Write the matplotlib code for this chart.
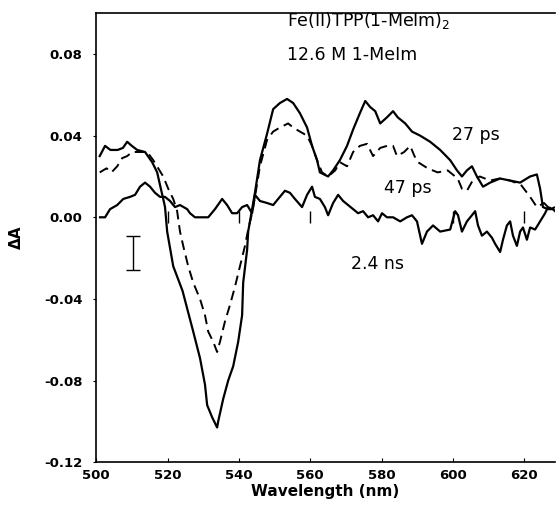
import numpy as np
import matplotlib.pyplot as plt

# Transient difference spectra, Fe(II)TPP(1-MeIm)2 in 12.6 M 1-MeIm
wl_27 = [501.0, 502.5, 504.0, 506.0, 507.5, 508.7, 510.0, 511.5, 513.7, 515.7,
         517.1, 518.0, 518.8, 519.3, 519.9, 521.6, 524.2, 527.2, 529.1, 530.5,
         531.1, 532.5, 533.9, 534.2, 535.6, 537.0, 538.4, 539.8, 540.9, 541.2,
         542.3, 542.6, 543.7, 544.5, 545.9, 547.9, 549.6, 551.5, 553.5, 555.2,
         557.1, 559.1, 560.5, 561.9, 562.7, 565.0, 566.4, 568.3, 570.3, 572.0,
         573.9, 575.4, 576.8, 578.2, 579.6, 581.5, 583.2, 584.5, 586.6, 588.5,
         590.8, 593.6, 596.4, 599.2, 601.1, 602.5, 603.9, 605.3, 606.7, 608.4,
         610.4, 613.2, 616.0, 618.8, 621.6, 623.5, 624.4, 625.2, 626.6, 628.0,
         628.6]
dA_27 = [0.030, 0.035, 0.033, 0.033, 0.034, 0.037, 0.035, 0.033, 0.032, 0.027,
         0.022, 0.015, 0.009, 0.005, -0.007, -0.024, -0.036, -0.056, -0.069, -0.082,
         -0.092, -0.098, -0.103, -0.100, -0.089, -0.080, -0.073, -0.061, -0.048, -0.032,
         -0.016, -0.007, 0.004, 0.012, 0.028, 0.041, 0.053, 0.056, 0.058, 0.056,
         0.051, 0.044, 0.035, 0.028, 0.022, 0.020, 0.023, 0.028, 0.035, 0.043,
         0.051, 0.057, 0.054, 0.052, 0.046, 0.049, 0.052, 0.049, 0.046, 0.042,
         0.040, 0.037, 0.033, 0.028, 0.023, 0.020, 0.023, 0.025, 0.020, 0.015,
         0.017, 0.019, 0.018, 0.017, 0.020, 0.021, 0.014, 0.005, 0.004, 0.004,
         0.003]

wl_47 = [501.0, 502.9, 504.3, 505.9, 507.3, 508.7, 510.1, 511.8, 514.3, 516.0,
         517.4, 518.8, 520.2, 521.6, 522.7, 523.0, 523.5, 524.4, 525.8, 527.2,
         529.1, 530.5, 531.4, 532.8, 533.9, 534.7, 536.1, 537.5, 538.9, 540.3,
         541.7, 542.6, 543.7, 544.5, 545.9, 547.9, 549.6, 551.5, 553.8, 555.2,
         557.1, 559.1, 560.5, 561.9, 563.3, 565.0, 567.0, 568.3, 570.3, 572.0,
         573.9, 575.9, 577.6, 579.6, 581.5, 583.2, 584.3, 586.3, 588.0, 589.2,
         590.2, 592.9, 595.7, 598.5, 601.3, 602.5, 603.9, 605.5, 607.5, 610.4,
         613.0, 616.0, 619.0, 621.6, 623.5, 625.5, 627.2, 628.6]
dA_47 = [0.022, 0.024, 0.022, 0.025, 0.029, 0.030, 0.032, 0.032, 0.032, 0.028,
         0.024, 0.020, 0.014, 0.009, 0.003, -0.001, -0.007, -0.014, -0.024, -0.032,
         -0.040, -0.048, -0.056, -0.061, -0.066, -0.061, -0.051, -0.043, -0.034, -0.024,
         -0.014, -0.006, 0.002, 0.010, 0.025, 0.038, 0.042, 0.044, 0.046, 0.044,
         0.042, 0.040, 0.035, 0.028, 0.022, 0.020, 0.023, 0.027, 0.025, 0.032,
         0.035, 0.036, 0.030, 0.034, 0.035, 0.035, 0.030, 0.032, 0.035, 0.030,
         0.027, 0.024, 0.022, 0.023, 0.019, 0.014, 0.013, 0.018, 0.020, 0.018,
         0.019, 0.018, 0.016, 0.010, 0.005, 0.007, 0.004, 0.005]

wl_24 = [501.1, 502.5, 503.9, 505.9, 507.6, 509.5, 510.9, 512.3, 513.7, 515.1,
         516.5, 517.9, 519.3, 520.7, 522.1, 523.5, 525.5, 526.3, 527.7, 529.7,
         531.4, 533.3, 535.3, 536.7, 538.1, 539.5, 540.9, 542.3, 543.7, 544.5,
         545.9, 547.9, 549.6, 551.0, 552.9, 554.3, 555.7, 557.7, 559.1, 560.5,
         561.3, 562.7, 564.1, 565.0, 566.4, 567.8, 569.2, 570.6, 572.0, 573.4,
         574.8, 576.2, 577.6, 579.0, 580.1, 581.5, 583.2, 585.2, 587.1, 588.5,
         589.9, 591.3, 592.7, 594.4, 596.4, 599.2, 600.6, 601.4, 602.5, 603.9,
         605.3, 606.2, 607.0, 608.1, 609.5, 610.9, 611.8, 613.2, 614.0, 615.1,
         616.0, 616.8, 617.9, 618.8, 619.6, 620.7, 621.6, 623.0, 624.4, 625.8,
         626.6, 628.0]
dA_24 = [0.000, 0.000, 0.004, 0.006, 0.009, 0.010, 0.011, 0.015, 0.017, 0.015,
         0.012, 0.010, 0.010, 0.008, 0.005, 0.006, 0.004, 0.002, 0.000, 0.000,
         0.000, 0.004, 0.009, 0.006, 0.002, 0.002, 0.005, 0.006, 0.002, 0.011,
         0.008, 0.007, 0.006, 0.009, 0.013, 0.012, 0.009, 0.005, 0.011, 0.015,
         0.010, 0.009, 0.005, 0.001, 0.007, 0.011, 0.008, 0.006, 0.004, 0.002,
         0.003, 0.000, 0.001, -0.002, 0.002, 0.000, 0.000, -0.002, 0.000, 0.001,
         -0.002, -0.013, -0.007, -0.004, -0.007, -0.006, 0.003, 0.001, -0.007, -0.002,
         0.001, 0.003, -0.004, -0.009, -0.007, -0.010, -0.013, -0.017, -0.011, -0.004,
         -0.002, -0.009, -0.014, -0.007, -0.005, -0.011, -0.005, -0.006, -0.002, 0.002,
         0.005, 0.004]

# error bar (typical uncertainty) and little marks on the zero line
err_x, err_y, err_half = 510.4, -0.0176, 0.0083
zero_marks = [520, 540, 560, 600, 620]

xticks = [500, 520, 540, 560, 580, 600, 620]
yticks = [-0.12, -0.08, -0.04, 0.00, 0.04, 0.08]

fig = plt.figure(figsize=(5.59, 5.09), dpi=100)
ax = fig.add_axes([0.172, 0.092, 0.821, 0.882])

ax.plot(wl_27, dA_27, color="black", lw=1.6)
ax.plot(wl_47, dA_47, color="black", lw=1.4, dashes=(5, 3))
ax.plot(wl_24, dA_24, color="black", lw=1.6)

ax.errorbar([err_x], [err_y], yerr=[err_half], color="black", lw=1.0,
            capsize=5, capthick=1.0)
ax.vlines(zero_marks, -0.003, 0.003, color="black", lw=1.0)

ax.set_xlim(500, 628.6)
ax.set_ylim(-0.12, 0.10)
ax.set_xticks(xticks)
ax.set_yticks(yticks)
ax.set_yticklabels([f"{v:.2f}" for v in yticks])
ax.tick_params(axis="x", direction="in", length=3, labelsize=9.5, pad=5)
ax.tick_params(axis="y", direction="out", length=2, labelsize=9.5, pad=8)
for lab in ax.get_xticklabels() + ax.get_yticklabels():
    lab.set_fontweight("bold")

ax.spines["right"].set_visible(False)
for s in ["left", "bottom", "top"]:
    ax.spines[s].set_linewidth(1.2)

ax.set_xlabel("Wavelength (nm)", fontsize=11, fontweight="bold", labelpad=1)
ax.set_ylabel("ΔA", fontsize=11, fontweight="bold", labelpad=14)

ax.text(553.5, 0.0966, "Fe(II)TPP(1-MeIm)$_2$", fontsize=12.5, va="center")
ax.text(553.5, 0.0795, "12.6 M 1-MeIm", fontsize=12.5, va="center")
ax.text(599.7, 0.0405, "27 ps", fontsize=12.5, va="center")
ax.text(580.7, 0.0146, "47 ps", fontsize=12.5, va="center")
ax.text(571.4, -0.023, "2.4 ns", fontsize=12.5, va="center")

fig.savefig("out.png", dpi=100)
